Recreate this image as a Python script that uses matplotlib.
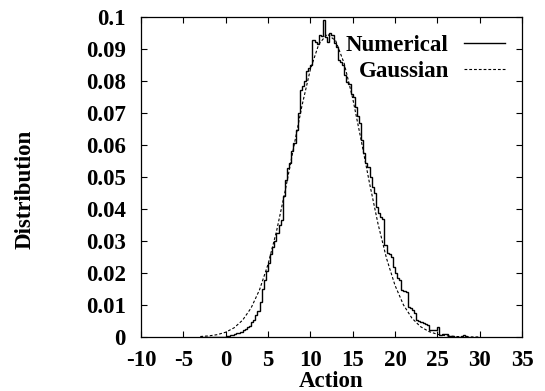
import numpy as np
import matplotlib
matplotlib.use("Agg")
import matplotlib.pyplot as plt

plt.rcParams['font.family'] = ['Liberation Serif', 'DejaVu Serif']
plt.rcParams['font.weight'] = 'bold'

# histogram of the action, bins of width 0.25 starting at -3
bin_start = -3.0
bin_width = 0.25
numerical = [
    0, 0, 0, 0, 0, 0, 0, 0, 0, 0, 0, 0,
    0.3, 0.4, 0.6, 0.6, 0.9, 1.1, 1.4, 1.7, 2.1, 2.5, 3.2, 3.4,
    4.6, 5.2, 6.8, 8.0, 11.0, 15.0, 17.8, 20.5, 23.0, 26.0, 28.0, 30.0,
    32.4, 35.0, 36.6, 44.0, 49.0, 52.7, 54.5, 58.0, 60.5, 64.7, 70.0, 77.2,
    78.5, 80.0, 83.0, 84.0, 85.0, 92.8, 92.3, 91.5, 94.4, 94.0, 99.0, 93.8,
    92.3, 94.9, 94.4, 91.8, 90.7, 86.6, 86.0, 85.0, 82.0, 79.8, 79.0, 76.0,
    75.0, 72.0, 69.0, 66.8, 61.6, 57.4, 54.4, 53.0, 50.0, 47.0, 44.9, 40.7,
    38.7, 37.6, 37.0, 28.8, 26.2, 26.0, 25.1, 22.0, 19.9, 18.5, 17.8, 14.7,
    14.4, 14.2, 9.5, 9.0, 8.4, 7.6, 5.3, 5.0, 4.8, 4.5, 4.0, 3.8,
    2.2, 2.2, 2.2, 2.2, 3.2, 0.6, 0.8, 0.8, 0.8, 0.3, 0.2, 0.2,
    0.1, 0.1, 0.1, 0.2, 0.6, 0.2, 0.0,
]
numerical = np.array(numerical) / 1000.0
edges = bin_start + bin_width * np.arange(len(numerical) + 1)

# gaussian curve
gauss_x = [-3, -2, -1, 0, 1, 2, 3, 4, 5, 6, 7, 8, 9, 10, 11, 12, 13, 14,
           15, 16, 17, 18, 19, 20, 21, 22, 23, 24, 25, 26, 27, 28, 29, 30]
gauss_y = [0.00015, 0.00034, 0.00073, 0.00149, 0.00288, 0.00526, 0.00905,
           0.01474, 0.02269, 0.03298, 0.04530, 0.05881, 0.07212, 0.08357,
           0.09151, 0.09467, 0.09255, 0.08548, 0.07462, 0.06154, 0.04795,
           0.03530, 0.02456, 0.01615, 0.01003, 0.00589, 0.00326, 0.00171,
           0.00085, 0.00040, 0.00018, 0.00007, 0.00003, 0.00001]

xticks = [-10, -5, 0, 5, 10, 15, 20, 25, 30, 35]
yticks = [0, 0.01, 0.02, 0.03, 0.04, 0.05, 0.06, 0.07, 0.08, 0.09, 0.1]
ylabels = ['0', '0.01', '0.02', '0.03', '0.04', '0.05', '0.06', '0.07',
           '0.08', '0.09', '0.1']

fig = plt.figure(figsize=(5.45, 3.91), dpi=100)
ax = fig.add_axes([0.2587, 0.1381, 0.6991, 0.8184])

ax.stairs(numerical, edges, color='black', lw=1.0, label='Numerical')
ax.plot(gauss_x, gauss_y, color='black', lw=0.8, ls=(0, (2.5, 1.8)),
        label='Gaussian')

ax.set_xlim(-10, 35)
ax.set_ylim(0, 0.1)
ax.set_xticks(xticks)
ax.set_xticklabels([str(t) for t in xticks])
ax.set_yticks(yticks)
ax.set_yticklabels(ylabels)
ax.tick_params(direction='in', length=4, width=0.8, top=True, right=True,
               labelsize=16.5)
ax.tick_params(axis='x', pad=9)
ax.tick_params(axis='y', pad=11)
for s in ax.spines.values():
    s.set_linewidth(0.9)

ax.set_xlabel('Action', fontsize=16.5, fontweight='bold', labelpad=0)
ax.set_ylabel('Distribution', fontsize=16.5, fontweight='bold', labelpad=36,
              y=0.46)

ax.legend(loc='upper right', bbox_to_anchor=(505 / 545, 1 - 35 / 391),
          bbox_transform=fig.transFigure, frameon=False, markerfirst=False,
          handlelength=1.8, handletextpad=0.65,
          labelspacing=0.2, borderpad=0, borderaxespad=0,
          prop={'weight': 'bold', 'size': 16.5})

fig.savefig('out.png', dpi=100)
